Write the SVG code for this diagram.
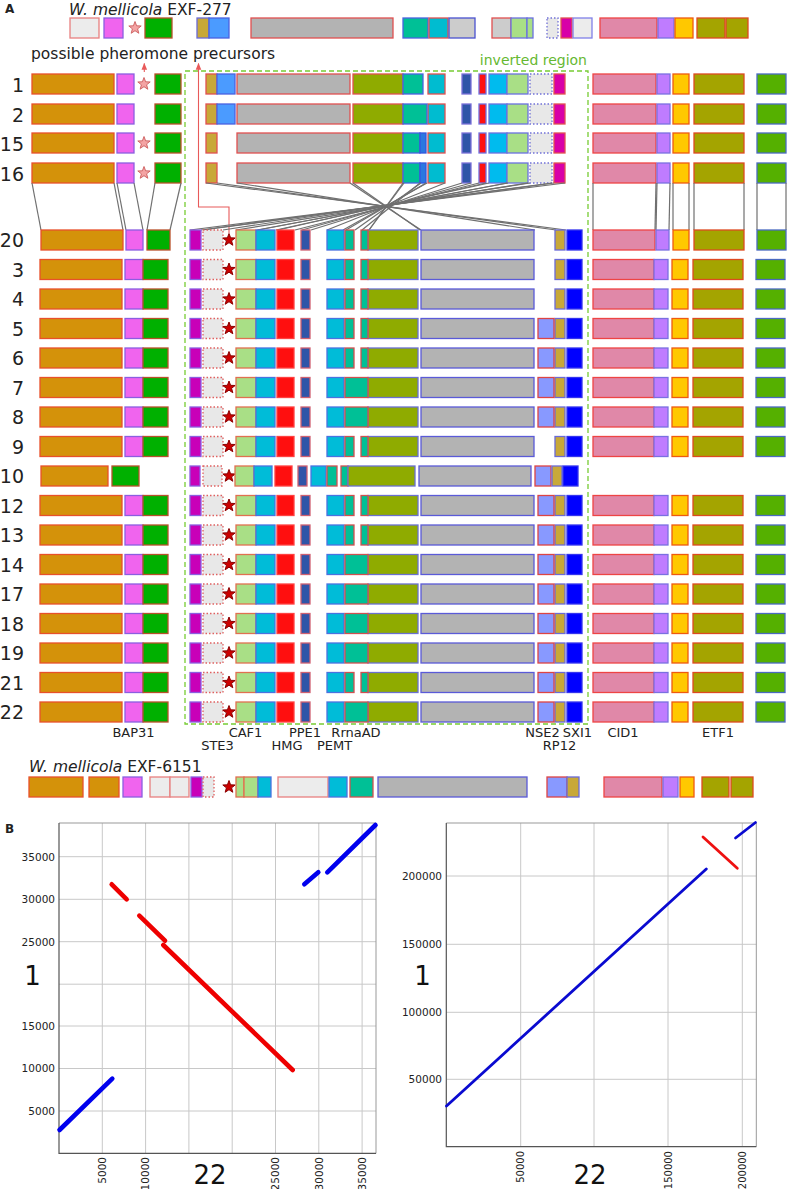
<svg xmlns="http://www.w3.org/2000/svg" xmlns:xlink="http://www.w3.org/1999/xlink" width="788" height="1189" viewBox="0 0 788 1189">
<style>
text{font-family:"DejaVu Sans","Liberation Sans",sans-serif;fill:#222}
rect{stroke-width:1.3}
.o{fill:#d4920a;stroke:#e8502a}
.m{fill:#f064ee;stroke:#8a5ee0}
.g{fill:#00b000;stroke:#b8502a}
.t{fill:#c8a838;stroke:#e05050}
.tb{fill:#c8a838;stroke:#6a6ad8}
.lb{fill:#4b9bff;stroke:#4a62e0}
.gy{fill:#b3b3b3;stroke:#e05050}
.gyb{fill:#b3b3b3;stroke:#5a5ad8}
.ol{fill:#8fab00;stroke:#e05050}
.olb{fill:#8fab00;stroke:#6a70d0}
.tl{fill:#00c096;stroke:#4a62e0}
.tlr{fill:#00c096;stroke:#d05050}
.cy{fill:#00bcd0;stroke:#e05050}
.cyb{fill:#00bcd8;stroke:#4a72e0}
.db{fill:#2f55a8;stroke:#7a70d8}
.dbr{fill:#2f55a8;stroke:#d06070}
.rd{fill:#ff1010;stroke:#7070e0}
.rdr{fill:#ff0f0f;stroke:#ff4040}
.c2{fill:#00bbee;stroke:#6a70e0}
.lg{fill:#a9df86;stroke:#6a70e0}
.lgr{fill:#a9df86;stroke:#e07050}
.dt{fill:#e8e8e8;stroke:#7070d8;stroke-dasharray:1.5 2}
.dtr{fill:#e8e8e8;stroke:#e06060;stroke-dasharray:1.5 2}
.mg{fill:#d800a8;stroke:#e05050}
.m3{fill:#c800b8;stroke:#8a5ee0}
.pk{fill:#e088a8;stroke:#ee4444}
.pu{fill:#bf7cff;stroke:#7a70e0}
.ye{fill:#ffc800;stroke:#ee5a10}
.ov{fill:#a4a400;stroke:#dd4a20}
.g2{fill:#55b000;stroke:#4a6ac0}
.pw{fill:#8899ff;stroke:#dd4444}
.bl{fill:#0000ff;stroke:#3333ee}
.sb{fill:#2a78e0;stroke:#3355dd}
.lgy{fill:#ececec;stroke:#e88080}
.lgb{fill:#ececec;stroke:#8080e8}
.cc{fill:#cccccc;stroke:#e05050}
.ccb{fill:#cccccc;stroke:#4a52d0}
.ps{fill:#f4a4a4;stroke:#d06666;stroke-width:1}
.rs{fill:#cc0000;stroke:#8a0000;stroke-width:1}
.lab{font-size:13px;text-anchor:middle}
.num{font-size:19px;text-anchor:end}
.con line{stroke:#707070;stroke-width:1.2}
.grid line{stroke:#c8c8c8;stroke-width:1}
.tk{font-family:"Liberation Sans",Arial,sans-serif;font-size:10.5px;fill:#333}
.tks{font-size:10px}
.big{font-size:26px;fill:#111}
</style>
<defs>
<path id="star" d="M0,-6.5 L1.59,-2.18 L6.18,-2.01 L2.57,0.83 L3.82,5.26 L0,2.7 L-3.82,5.26 L-2.57,0.83 L-6.18,-2.01 L-1.59,-2.18 Z"/>
<marker id="ah" viewBox="0 0 10 10" refX="9" refY="5" markerWidth="7" markerHeight="7" orient="auto" markerUnits="userSpaceOnUse"><path d="M0,1 L10,5 L0,9 Z" fill="#e85a5a"/></marker>
<g id="LT"><rect class="o" x="32" width="82" height="20"/><rect class="m" x="117" width="17" height="20"/><rect class="g" x="155" width="26" height="20"/></g>
<g id="RT"><rect class="pk" x="593" width="63" height="20"/><rect class="pu" x="657" width="13" height="20"/><rect class="ye" x="673" width="16" height="20"/><rect class="ov" x="694" width="50" height="20"/><rect class="g2" x="757" width="29" height="20"/></g>
<g id="MT"><rect class="gy" x="237" width="113" height="20"/><rect class="ol" x="353" width="50" height="20"/><rect class="cy" x="428" width="17" height="20"/><rect class="db" x="462" width="9" height="20"/><rect class="rd" x="479" width="7" height="20"/><rect class="c2" x="489" width="18" height="20"/><rect class="lg" x="507" width="21" height="20"/><rect class="dt" x="530" width="22" height="20"/><rect class="mg" x="554" width="11" height="20"/></g>
<g id="Lb"><rect class="o" x="40" width="82" height="20"/><rect class="m" x="125" width="18" height="20"/><rect class="g" x="143" width="25" height="20"/></g>
<g id="Rb"><rect class="pk" x="593" width="61" height="20"/><rect class="pu" x="654" width="14" height="20"/><rect class="ye" x="672" width="16" height="20"/><rect class="ov" x="693" width="50" height="20"/><rect class="g2" x="756" width="29" height="20"/></g>
<g id="Ia"><rect class="m3" x="190" width="11" height="20"/><rect class="dtr" x="203" width="20" height="20"/><use href="#star" class="rs" x="229" y="10"/><rect class="lgr" x="236" width="20" height="20"/><rect class="cyb" x="256" width="19" height="20"/><rect class="rdr" x="277" width="17" height="20"/><rect class="dbr" x="301" width="9" height="20"/><rect class="cyb" x="327" width="17" height="20"/><rect class="olb" x="368" width="50" height="20"/><rect class="gyb" x="421" width="113" height="20"/><rect class="tb" x="555" width="10" height="20"/><rect class="bl" x="567" width="15" height="20"/></g>
<g id="Tp"><rect class="tlr" x="345" width="9" height="20"/><rect class="tlr" x="361" width="7" height="20"/></g>
<g id="Tw"><rect class="tlr" x="345" width="23" height="20"/></g>
<g id="Pw"><rect class="pw" x="538" width="16" height="20"/></g>
</defs>
<rect width="788" height="1189" fill="#fff"/>
<text x="5" y="13" font-size="12" font-weight="bold">A</text>
<text x="5" y="833" font-size="12" font-weight="bold">B</text>
<text x="69" y="14.5" font-size="15.5"><tspan font-style="italic">W. mellicola</tspan> EXF-277</text>
<text x="31" y="59" font-size="15.5">possible pheromone precursors</text>
<text x="587" y="65" font-size="14" text-anchor="end" style="fill:#66b832">inverted region</text>

<g id="exf277">
<rect class="lgy" x="70" y="18" width="29" height="20"/><rect class="m" x="104" y="18" width="19" height="20"/><use href="#star" class="ps" x="135" y="28"/><rect class="g" x="145" y="18" width="27" height="20"/>
<rect class="tb" x="197" y="18" width="12" height="20"/><rect class="lb" x="209" y="18" width="20" height="20"/>
<rect class="gy" x="251" y="18" width="142" height="20"/><rect class="tl" x="403" y="18" width="25" height="20"/><rect class="cy" x="429" y="18" width="19" height="20"/><rect class="ccb" x="449" y="18" width="26" height="20"/>
<rect class="cc" x="492" y="18" width="19" height="20"/><rect class="lg" x="511" y="18" width="16" height="20"/><rect class="lg" x="527" y="18" width="6" height="20"/>
<rect class="dt" x="547" y="18" width="11" height="20"/><rect class="mg" x="561" y="18" width="11" height="20"/><rect class="lgb" x="573" y="18" width="19" height="20"/>
<rect class="pk" x="600" y="18" width="57" height="20"/><rect class="pu" x="658" y="18" width="16" height="20"/><rect class="ye" x="675" y="18" width="18" height="20"/><rect class="ov" x="697" y="18" width="28" height="20"/><rect class="ov" x="726" y="18" width="22" height="20"/>
</g>

<g id="invbox"><rect x="185" y="71" width="403" height="653" fill="none" stroke="#77cc33" stroke-width="1.5" stroke-dasharray="5 3"/></g>

<g id="arrows" fill="none" stroke="#e85a5a" stroke-width="1.1">
<path d="M144.3,72 V63.5" marker-end="url(#ah)"/>
<path d="M229,233 V207 H198.5 V63.5" marker-end="url(#ah)"/>
</g>

<g id="row-1" transform="translate(0 74)"><use href="#LT"/><use href="#star" class="ps" x="144" y="10"/><rect class="t" x="206" width="11" height="20"/><rect class="lb" x="217" width="18" height="20"/><use href="#MT"/><rect class="tl" x="403" width="20" height="20"/><use href="#RT"/></g>
<g id="row-2" transform="translate(0 104)"><use href="#LT"/><rect class="t" x="206" width="11" height="20"/><rect class="lb" x="217" width="18" height="20"/><use href="#MT"/><rect class="tl" x="403" width="24" height="20"/><use href="#RT"/></g>
<g id="row-15" transform="translate(0 133)"><use href="#LT"/><use href="#star" class="ps" x="144" y="10"/><rect class="t" x="206" width="11" height="20"/><use href="#MT"/><rect class="tl" x="403" width="17" height="20"/><rect class="sb" x="420" width="6" height="20"/><use href="#RT"/></g>
<g id="row-16" transform="translate(0 163)"><use href="#LT"/><use href="#star" class="ps" x="144" y="10"/><rect class="t" x="206" width="11" height="20"/><use href="#MT"/><rect class="tl" x="403" width="17" height="20"/><rect class="sb" x="420" width="6" height="20"/><use href="#RT"/></g>

<g id="connectors" class="con">
<line x1="32" y1="183" x2="41" y2="230"/><line x1="114" y1="183" x2="123" y2="230"/><line x1="117" y1="183" x2="126" y2="230"/><line x1="134" y1="183" x2="143" y2="230"/><line x1="155" y1="183" x2="147" y2="230"/><line x1="181" y1="183" x2="170" y2="230"/>
<line x1="206" y1="183" x2="566" y2="230"/><line x1="217" y1="183" x2="556" y2="230"/>
<line x1="237" y1="183" x2="535" y2="230"/><line x1="350" y1="183" x2="421" y2="230"/>
<line x1="353" y1="183" x2="420" y2="230"/><line x1="403" y1="183" x2="369" y2="230"/>
<line x1="404" y1="183" x2="369" y2="230"/><line x1="420" y1="183" x2="362" y2="230"/>
<line x1="421" y1="183" x2="355" y2="230"/><line x1="426" y1="183" x2="346" y2="230"/>
<line x1="427" y1="183" x2="343" y2="230"/><line x1="445" y1="183" x2="327" y2="230"/>
<line x1="462" y1="183" x2="311" y2="230"/><line x1="471" y1="183" x2="302" y2="230"/>
<line x1="479" y1="183" x2="295" y2="230"/><line x1="486" y1="183" x2="278" y2="230"/>
<line x1="489" y1="183" x2="276" y2="230"/><line x1="507" y1="183" x2="258" y2="230"/>
<line x1="508" y1="183" x2="257" y2="230"/><line x1="528" y1="183" x2="236" y2="230"/>
<line x1="530" y1="183" x2="223" y2="230"/><line x1="552" y1="183" x2="203" y2="230"/>
<line x1="554" y1="183" x2="201" y2="230"/><line x1="565" y1="183" x2="190" y2="230"/>
<line x1="593" y1="183" x2="593" y2="230"/><line x1="656" y1="183" x2="655" y2="230"/><line x1="657" y1="183" x2="656" y2="230"/><line x1="670" y1="183" x2="669" y2="230"/><line x1="673" y1="183" x2="673" y2="230"/><line x1="689" y1="183" x2="689" y2="230"/><line x1="694" y1="183" x2="694" y2="230"/><line x1="744" y1="183" x2="744" y2="230"/><line x1="757" y1="183" x2="757" y2="230"/><line x1="786" y1="183" x2="786" y2="230"/>
</g>

<g id="row-20" transform="translate(0 230)"><rect class="o" x="41" width="82" height="20"/><rect class="m" x="126" width="17" height="20"/><rect class="g" x="147" width="23" height="20"/><use href="#Ia"/><use href="#Tp"/><rect class="pk" x="593" width="62" height="20"/><rect class="pu" x="656" width="13" height="20"/><rect class="ye" x="673" width="16" height="20"/><rect class="ov" x="694" width="50" height="20"/><rect class="g2" x="757" width="29" height="20"/></g>
<g id="row-3" transform="translate(0 259.5)"><use href="#Lb"/><use href="#Ia"/><use href="#Tp"/><use href="#Rb"/></g>
<g id="row-4" transform="translate(0 289)"><use href="#Lb"/><use href="#Ia"/><use href="#Tp"/><use href="#Rb"/></g>
<g id="row-5" transform="translate(0 318.5)"><use href="#Lb"/><use href="#Ia"/><use href="#Tp"/><use href="#Pw"/><use href="#Rb"/></g>
<g id="row-6" transform="translate(0 348)"><use href="#Lb"/><use href="#Ia"/><use href="#Tp"/><use href="#Pw"/><use href="#Rb"/></g>
<g id="row-7" transform="translate(0 377.5)"><use href="#Lb"/><use href="#Ia"/><use href="#Tw"/><use href="#Pw"/><use href="#Rb"/></g>
<g id="row-8" transform="translate(0 407)"><use href="#Lb"/><use href="#Ia"/><use href="#Tw"/><use href="#Pw"/><use href="#Rb"/></g>
<g id="row-9" transform="translate(0 436.5)"><use href="#Lb"/><use href="#Ia"/><use href="#Tp"/><use href="#Rb"/></g>
<g id="row-10" transform="translate(0 466)"><rect class="o" x="41" width="67" height="20"/><rect class="g" x="112" width="27" height="20"/>
<rect class="m3" x="190" width="10" height="20"/><rect class="dtr" x="203" width="19" height="20"/><use href="#star" class="rs" x="229" y="10"/><rect class="lgr" x="235" width="19" height="20"/><rect class="cyb" x="254" width="18" height="20"/><rect class="rdr" x="275" width="17" height="20"/><rect class="dbr" x="298" width="9" height="20"/><rect class="cyb" x="311" width="15" height="20"/><rect class="tlr" x="327" width="10" height="20"/><rect class="tlr" x="341" width="7" height="20"/><rect class="olb" x="348" width="67" height="20"/><rect class="gyb" x="419" width="112" height="20"/><rect class="pw" x="535" width="16" height="20"/><rect class="tb" x="552" width="10" height="20"/><rect class="bl" x="563" width="15" height="20"/></g>
<g id="row-12" transform="translate(0 495.5)"><use href="#Lb"/><use href="#Ia"/><use href="#Tp"/><use href="#Pw"/><use href="#Rb"/></g>
<g id="row-13" transform="translate(0 525)"><use href="#Lb"/><use href="#Ia"/><use href="#Tp"/><use href="#Pw"/><use href="#Rb"/></g>
<g id="row-14" transform="translate(0 554.5)"><use href="#Lb"/><use href="#Ia"/><use href="#Tw"/><use href="#Pw"/><use href="#Rb"/></g>
<g id="row-17" transform="translate(0 584)"><use href="#Lb"/><use href="#Ia"/><use href="#Tw"/><use href="#Pw"/><use href="#Rb"/></g>
<g id="row-18" transform="translate(0 613.5)"><use href="#Lb"/><use href="#Ia"/><use href="#Tw"/><use href="#Pw"/><use href="#Rb"/></g>
<g id="row-19" transform="translate(0 643)"><use href="#Lb"/><use href="#Ia"/><use href="#Tw"/><use href="#Pw"/><use href="#Rb"/></g>
<g id="row-21" transform="translate(0 672.5)"><use href="#Lb"/><use href="#Ia"/><use href="#Tp"/><use href="#Pw"/><use href="#Rb"/></g>
<g id="row-22" transform="translate(0 702)"><use href="#Lb"/><use href="#Ia"/><use href="#Tw"/><use href="#Pw"/><use href="#Rb"/></g>

<g id="rownums" class="num">
<text x="24" y="91.5">1</text><text x="24" y="121.5">2</text><text x="24" y="150.5">15</text><text x="24" y="180.5">16</text>
<text x="24" y="247">20</text><text x="24" y="276.5">3</text><text x="24" y="306">4</text><text x="24" y="335.5">5</text><text x="24" y="365">6</text><text x="24" y="394.5">7</text><text x="24" y="424">8</text><text x="24" y="453.5">9</text><text x="24" y="483">10</text><text x="24" y="512.5">12</text><text x="24" y="542">13</text><text x="24" y="571.5">14</text><text x="24" y="601">17</text><text x="24" y="630.5">18</text><text x="24" y="660">19</text><text x="24" y="689.5">21</text><text x="24" y="719">22</text>
</g>

<g id="genelabels" class="lab">
<text x="133.5" y="737">BAP31</text><text x="217.5" y="750">STE3</text><text x="245.5" y="737">CAF1</text><text x="287" y="750">HMG</text><text x="305" y="737">PPE1</text><text x="334.5" y="750">PEMT</text><text x="356" y="737">RrnaAD</text><text x="542.5" y="737">NSE2</text><text x="559.5" y="750">RP12</text><text x="577.5" y="737">SXI1</text><text x="623" y="737">CID1</text><text x="718" y="737">ETF1</text>
</g>

<text x="29" y="772" font-size="15.5"><tspan font-style="italic">W. mellicola</tspan> EXF-6151</text>
<g id="exf6151" transform="translate(0 777)">
<rect class="o" x="29" width="54" height="20"/><rect class="o" x="89" width="30" height="20"/><rect class="m" x="123" width="19" height="20"/><rect class="lgy" x="150" width="20" height="20"/><rect class="lgy" x="170" width="19" height="20"/><rect class="m3" x="191" width="11" height="20"/><rect class="dtr" x="203" width="11" height="20"/><use href="#star" class="rs" x="229" y="10"/><rect class="lgr" x="236" width="8" height="20"/><rect class="lgr" x="244" width="14" height="20"/><rect class="cyb" x="258" width="13" height="20"/><rect class="lgy" x="278" width="50" height="20"/><rect class="cyb" x="329" width="18" height="20"/><rect class="tlr" x="350" width="23" height="20"/><rect class="gyb" x="378" width="149" height="20"/><rect class="pw" x="547" width="20" height="20"/><rect class="tb" x="567" width="12" height="20"/><rect class="pk" x="604" width="58" height="20"/><rect class="pu" x="663" width="15" height="20"/><rect class="ye" x="680" width="14" height="20"/><rect class="ov" x="702" width="27" height="20"/><rect class="ov" x="731" width="22" height="20"/>
</g>

<g id="plot-left">
<g class="grid">
<line x1="102.3" y1="823" x2="102.3" y2="1153.4"/><line x1="145.6" y1="823" x2="145.6" y2="1153.4"/><line x1="188.9" y1="823" x2="188.9" y2="1153.4"/><line x1="232.2" y1="823" x2="232.2" y2="1153.4"/><line x1="275.5" y1="823" x2="275.5" y2="1153.4"/><line x1="318.8" y1="823" x2="318.8" y2="1153.4"/><line x1="362.1" y1="823" x2="362.1" y2="1153.4"/>
<line x1="59" y1="1111" x2="376" y2="1111"/><line x1="59" y1="1068.5" x2="376" y2="1068.5"/><line x1="59" y1="1026" x2="376" y2="1026"/><line x1="59" y1="984.2" x2="376" y2="984.2"/><line x1="59" y1="941.7" x2="376" y2="941.7"/><line x1="59" y1="899.3" x2="376" y2="899.3"/><line x1="59" y1="856.7" x2="376" y2="856.7"/>
</g>
<path d="M59,823 H376 V1153.4" fill="none" stroke="#999" stroke-width="1"/>
<path d="M59,823 V1153.4 H376" fill="none" stroke="#555" stroke-width="1.2"/>
<g fill="none" stroke-width="4.6" stroke-linecap="round">
<path d="M59.5,1130 L112.3,1078.7" stroke="#0000ee"/>
<path d="M111.7,884.3 L126.7,899.3" stroke="#ee0000"/>
<path d="M139.3,915.7 L165,940.7" stroke="#ee0000"/>
<path d="M163.3,945 L292.7,1070" stroke="#ee0000"/>
<path d="M304.3,884.3 L318.3,872.3" stroke="#0000ee"/>
<path d="M327.3,872.3 L375.5,825" stroke="#0000ee"/>
</g>
<g class="tk" text-anchor="end">
<text x="55" y="860.5">35000</text><text x="55" y="903">30000</text><text x="55" y="945.5">25000</text><text x="55" y="1030">15000</text><text x="55" y="1072">10000</text><text x="55" y="1114.5">5000</text>
<text transform="translate(106 1157) rotate(-90)">5000</text><text transform="translate(149.3 1157) rotate(-90)">10000</text><text transform="translate(279.2 1157) rotate(-90)">25000</text><text transform="translate(322.5 1157) rotate(-90)">30000</text><text transform="translate(365.8 1157) rotate(-90)">35000</text>
</g>
<text class="big" x="32.5" y="985" text-anchor="middle">1</text>
<text class="big" x="210" y="1184" text-anchor="middle">22</text>
</g>

<g id="plot-right">
<g class="grid">
<line x1="520.7" y1="823" x2="520.7" y2="1146.7"/><line x1="594" y1="823" x2="594" y2="1146.7"/><line x1="668" y1="823" x2="668" y2="1146.7"/><line x1="742.3" y1="823" x2="742.3" y2="1146.7"/>
<line x1="446.3" y1="876" x2="756.3" y2="876"/><line x1="446.3" y1="944.3" x2="756.3" y2="944.3"/><line x1="446.3" y1="1012.3" x2="756.3" y2="1012.3"/><line x1="446.3" y1="1079.3" x2="756.3" y2="1079.3"/>
</g>
<path d="M446.3,823 H756.3 V1146.7" fill="none" stroke="#999" stroke-width="1"/>
<path d="M446.3,823 V1146.7 H756.3" fill="none" stroke="#555" stroke-width="1.2"/>
<g fill="none" stroke-width="2.8" stroke-linecap="round">
<path d="M446.5,1106 L706.3,869" stroke="#0a0ad0"/>
<path d="M703,837 L737.3,868.3" stroke="#ee1111"/>
<path d="M735.5,838 L755.5,822.5" stroke="#0a0ad0"/>
</g>
<g class="tk" text-anchor="end">
<text x="442" y="879.5">200000</text><text x="442" y="948">150000</text><text x="442" y="1016">100000</text><text x="442" y="1083">50000</text>
<text class="tks" transform="translate(524.2 1151) rotate(-90)">50000</text><text class="tks" transform="translate(671.5 1151) rotate(-90)">150000</text><text class="tks" transform="translate(745.8 1151) rotate(-90)">200000</text>
</g>
<text class="big" x="422.5" y="985" text-anchor="middle">1</text>
<text class="big" x="590" y="1184" text-anchor="middle">22</text>
</g>
</svg>
